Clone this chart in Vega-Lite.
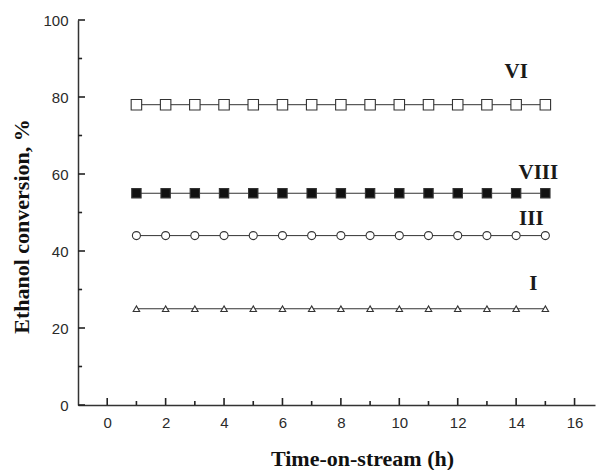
{
  "$schema": "https://vega.github.io/schema/vega-lite/v6.json",
  "width": 517,
  "height": 385,
  "autosize": "none",
  "padding": {"left": 78, "top": 20, "right": 3, "bottom": 65},
  "background": "white",
  "config": {"view": {"stroke": null}},
  "datasets": {
    "series": [
      {"time": 1, "conversion": 78, "catalyst": "VI"}, {"time": 2, "conversion": 78, "catalyst": "VI"}, {"time": 3, "conversion": 78, "catalyst": "VI"}, {"time": 4, "conversion": 78, "catalyst": "VI"}, {"time": 5, "conversion": 78, "catalyst": "VI"}, {"time": 6, "conversion": 78, "catalyst": "VI"}, {"time": 7, "conversion": 78, "catalyst": "VI"}, {"time": 8, "conversion": 78, "catalyst": "VI"}, {"time": 9, "conversion": 78, "catalyst": "VI"}, {"time": 10, "conversion": 78, "catalyst": "VI"}, {"time": 11, "conversion": 78, "catalyst": "VI"}, {"time": 12, "conversion": 78, "catalyst": "VI"}, {"time": 13, "conversion": 78, "catalyst": "VI"}, {"time": 14, "conversion": 78, "catalyst": "VI"}, {"time": 15, "conversion": 78, "catalyst": "VI"},
      {"time": 1, "conversion": 55, "catalyst": "VIII"}, {"time": 2, "conversion": 55, "catalyst": "VIII"}, {"time": 3, "conversion": 55, "catalyst": "VIII"}, {"time": 4, "conversion": 55, "catalyst": "VIII"}, {"time": 5, "conversion": 55, "catalyst": "VIII"}, {"time": 6, "conversion": 55, "catalyst": "VIII"}, {"time": 7, "conversion": 55, "catalyst": "VIII"}, {"time": 8, "conversion": 55, "catalyst": "VIII"}, {"time": 9, "conversion": 55, "catalyst": "VIII"}, {"time": 10, "conversion": 55, "catalyst": "VIII"}, {"time": 11, "conversion": 55, "catalyst": "VIII"}, {"time": 12, "conversion": 55, "catalyst": "VIII"}, {"time": 13, "conversion": 55, "catalyst": "VIII"}, {"time": 14, "conversion": 55, "catalyst": "VIII"}, {"time": 15, "conversion": 55, "catalyst": "VIII"},
      {"time": 1, "conversion": 44, "catalyst": "III"}, {"time": 2, "conversion": 44, "catalyst": "III"}, {"time": 3, "conversion": 44, "catalyst": "III"}, {"time": 4, "conversion": 44, "catalyst": "III"}, {"time": 5, "conversion": 44, "catalyst": "III"}, {"time": 6, "conversion": 44, "catalyst": "III"}, {"time": 7, "conversion": 44, "catalyst": "III"}, {"time": 8, "conversion": 44, "catalyst": "III"}, {"time": 9, "conversion": 44, "catalyst": "III"}, {"time": 10, "conversion": 44, "catalyst": "III"}, {"time": 11, "conversion": 44, "catalyst": "III"}, {"time": 12, "conversion": 44, "catalyst": "III"}, {"time": 13, "conversion": 44, "catalyst": "III"}, {"time": 14, "conversion": 44, "catalyst": "III"}, {"time": 15, "conversion": 44, "catalyst": "III"},
      {"time": 1, "conversion": 25, "catalyst": "I"}, {"time": 2, "conversion": 25, "catalyst": "I"}, {"time": 3, "conversion": 25, "catalyst": "I"}, {"time": 4, "conversion": 25, "catalyst": "I"}, {"time": 5, "conversion": 25, "catalyst": "I"}, {"time": 6, "conversion": 25, "catalyst": "I"}, {"time": 7, "conversion": 25, "catalyst": "I"}, {"time": 8, "conversion": 25, "catalyst": "I"}, {"time": 9, "conversion": 25, "catalyst": "I"}, {"time": 10, "conversion": 25, "catalyst": "I"}, {"time": 11, "conversion": 25, "catalyst": "I"}, {"time": 12, "conversion": 25, "catalyst": "I"}, {"time": 13, "conversion": 25, "catalyst": "I"}, {"time": 14, "conversion": 25, "catalyst": "I"}, {"time": 15, "conversion": 25, "catalyst": "I"}
    ],
    "labels": [
      {"time": 14.0, "conversion": 86.6, "label": "VI"},
      {"time": 14.76, "conversion": 60.3, "label": "VIII"},
      {"time": 14.52, "conversion": 48.3, "label": "III"},
      {"time": 14.59, "conversion": 31.4, "label": "I"}
    ],
    "xticks": [
      {"t": 0, "base": 0, "len": 1.82}, {"t": 1, "base": 0, "len": 1.04}, {"t": 2, "base": 0, "len": 1.82}, {"t": 3, "base": 0, "len": 1.04}, {"t": 4, "base": 0, "len": 1.82}, {"t": 5, "base": 0, "len": 1.04}, {"t": 6, "base": 0, "len": 1.82}, {"t": 7, "base": 0, "len": 1.04}, {"t": 8, "base": 0, "len": 1.82}, {"t": 9, "base": 0, "len": 1.04}, {"t": 10, "base": 0, "len": 1.82}, {"t": 11, "base": 0, "len": 1.04}, {"t": 12, "base": 0, "len": 1.82}, {"t": 13, "base": 0, "len": 1.04}, {"t": 14, "base": 0, "len": 1.82}, {"t": 15, "base": 0, "len": 1.04}, {"t": 16, "base": 0, "len": 1.82}
    ],
    "yticks": [
      {"v": 0, "start": -1, "end": -0.76}, {"v": 10, "start": -1, "end": -0.86}, {"v": 20, "start": -1, "end": -0.76}, {"v": 30, "start": -1, "end": -0.86}, {"v": 40, "start": -1, "end": -0.76}, {"v": 50, "start": -1, "end": -0.86}, {"v": 60, "start": -1, "end": -0.76}, {"v": 70, "start": -1, "end": -0.86}, {"v": 80, "start": -1, "end": -0.76}, {"v": 90, "start": -1, "end": -0.86}, {"v": 100, "start": -1, "end": -0.76}
    ]
  },
  "layer": [
    {
      "data": {"name": "series"},
      "mark": {"type": "line", "color": "#333333", "strokeWidth": 1},
      "encoding": {
        "x": {
          "field": "time", "type": "quantitative",
          "scale": {"domain": [-1, 16.7], "nice": false, "zero": false},
          "axis": {
            "title": "Time-on-stream (h)",
            "values": [0, 2, 4, 6, 8, 10, 12, 14, 16],
            "grid": false, "ticks": false,
            "domainColor": "#333333", "domainWidth": 1.5,
            "labelPadding": 10,
            "labelFont": "Liberation Sans", "labelFontSize": 15, "labelColor": "#2a2a2a",
            "titleFont": "Liberation Serif", "titleFontSize": 22, "titleFontWeight": "bold", "titleColor": "#111111",
            "titleX": 284, "titleY": 60, "titleBaseline": "alphabetic", "titleAlign": "center"
          }
        },
        "y": {
          "field": "conversion", "type": "quantitative",
          "scale": {"domain": [0, 100], "nice": false, "zero": false},
          "axis": {
            "title": "Ethanol conversion, %",
            "values": [0, 20, 40, 60, 80, 100],
            "grid": false, "ticks": false,
            "domainColor": "#333333", "domainWidth": 1.5,
            "labelPadding": 10,
            "labelFont": "Liberation Sans", "labelFontSize": 15, "labelColor": "#2a2a2a",
            "titleFont": "Liberation Serif", "titleFontSize": 22, "titleFontWeight": "bold", "titleColor": "#111111",
            "titleX": -57, "titleY": 206, "titleAngle": -90, "titleBaseline": "middle", "titleAlign": "center"
          }
        },
        "detail": {"field": "catalyst"}
      }
    },
    {
      "data": {"name": "series"},
      "mark": {"type": "point", "filled": true, "opacity": 1, "stroke": "#333333", "strokeWidth": 1.1},
      "encoding": {
        "x": {"field": "time", "type": "quantitative"},
        "y": {"field": "conversion", "type": "quantitative"},
        "shape": {"field": "catalyst", "type": "nominal", "scale": {"domain": ["VI", "VIII", "III", "I"], "range": ["square", "square", "circle", "triangle-up"]}, "legend": null},
        "fill": {"field": "catalyst", "type": "nominal", "scale": {"domain": ["VI", "VIII", "III", "I"], "range": ["#ffffff", "#111111", "#ffffff", "#ffffff"]}, "legend": null},
        "size": {"field": "catalyst", "type": "nominal", "scale": {"domain": ["VI", "VIII", "III", "I"], "range": [110, 42, 80, 165]}, "legend": null}
      }
    },
    {
      "data": {"name": "xticks"},
      "mark": {"type": "rule", "color": "#222222", "strokeWidth": 1.6, "opacity": 1},
      "encoding": {
        "x": {"field": "t", "type": "quantitative"},
        "y": {"field": "base", "type": "quantitative"},
        "y2": {"field": "len"}
      }
    },
    {
      "data": {"name": "yticks"},
      "mark": {"type": "rule", "color": "#222222", "strokeWidth": 1.6, "opacity": 1},
      "encoding": {
        "y": {"field": "v", "type": "quantitative"},
        "x": {"field": "start", "type": "quantitative"},
        "x2": {"field": "end"}
      }
    },
    {
      "data": {"name": "labels"},
      "mark": {"type": "text", "font": "Liberation Serif", "fontWeight": "bold", "fontSize": 21, "color": "#1a1a1a", "align": "center", "baseline": "middle"},
      "encoding": {
        "x": {"field": "time", "type": "quantitative"},
        "y": {"field": "conversion", "type": "quantitative"},
        "text": {"field": "label"}
      }
    }
  ]
}
